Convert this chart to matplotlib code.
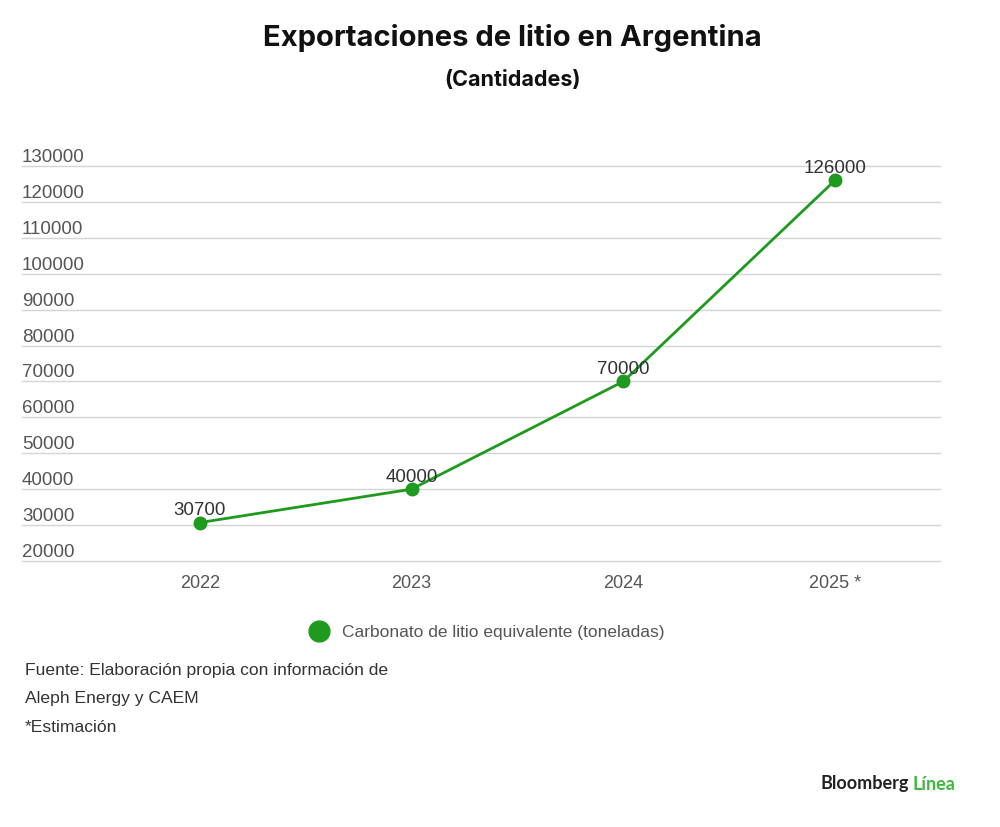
import matplotlib.pyplot as plt
import matplotlib.transforms as mtransforms
from matplotlib.lines import Line2D

years = ["2022", "2023", "2024", "2025 *"]
values = [30700, 40000, 70000, 126000]
yticks = [20000, 30000, 40000, 50000, 60000, 70000, 80000, 90000,
          100000, 110000, 120000, 130000]

green = "#1e9a1e"
body = "Liberation Sans"

fig = plt.figure(figsize=(10, 8.27), dpi=100)
ax = fig.add_axes([0.022, 1 - 561 / 827, 0.918, (561 - 166) / 827])

x = list(range(len(years)))
ax.plot(x, values, color=green, lw=2, marker="o", ms=9, zorder=3)
for xi, v in zip(x, values):
    ax.annotate(str(v), (xi, v), xytext=(0, 2.5), textcoords="offset points",
                ha="center", va="bottom", fontsize=13.5, color="#333333",
                family=body, zorder=4)

ax.set_xlim(-0.84, 3.496)
ax.set_ylim(20000, 130000)
ax.set_yticks(yticks)
ax.set_yticklabels([])
ax.grid(axis="y", color="#d4d4d4", lw=1)
for gl in ax.yaxis.get_gridlines():
    gl.set_clip_on(False)
ax.set_axisbelow(True)
ax.tick_params(length=0)
for s in ax.spines.values():
    s.set_visible(False)

# y labels sit above their gridlines
trans = mtransforms.blended_transform_factory(ax.transAxes, ax.transData)
for t in yticks:
    ax.text(0, t, str(t), transform=trans, ha="left", va="bottom",
            fontsize=13.5, color="#555555", family=body)

ax.set_xticks(x)
ax.set_xticklabels(years, fontsize=13, color="#555555", family=body)
ax.tick_params(axis="x", pad=10)

fig.text(0.512, 1 - 38 / 827, "Exportaciones de litio en Argentina",
         ha="center", va="center", fontsize=21, fontweight="bold",
         family="Inter", color="#111111")
fig.text(0.512, 1 - 80 / 827, "(Cantidades)", ha="center", va="center",
         fontsize=15.5, fontweight="bold", family="Inter", color="#111111")

# legend
fig.legend(handles=[Line2D([], [], ls="none", marker="o", ms=15, color=green)],
           labels=["Carbonato de litio equivalente (toneladas)"],
           loc="center", bbox_to_anchor=(0.483, 1 - 632 / 827), frameon=False,
           prop={"family": body, "size": 12.5}, labelcolor="#555555",
           handletextpad=0.3)

foot = ["Fuente: Elaboración propia con información de",
        "Aleph Energy y CAEM", "*Estimación"]
for i, line in enumerate(foot):
    fig.text(0.025, 1 - (671 + 28 * i) / 827, line, ha="left", va="center",
             fontsize=12.6, color="#333333", family=body)

fig.text(0.909, 1 - 784 / 827, "Bloomberg", ha="right", va="center",
         fontsize=13, fontweight="bold", family="Lato", color="#222222")
fig.text(0.913, 1 - 784 / 827, "Línea", ha="left", va="center",
         fontsize=13, fontweight="bold", family="Lato", color="#3cb83c")

fig.savefig("out.png", dpi=100, facecolor="white")
